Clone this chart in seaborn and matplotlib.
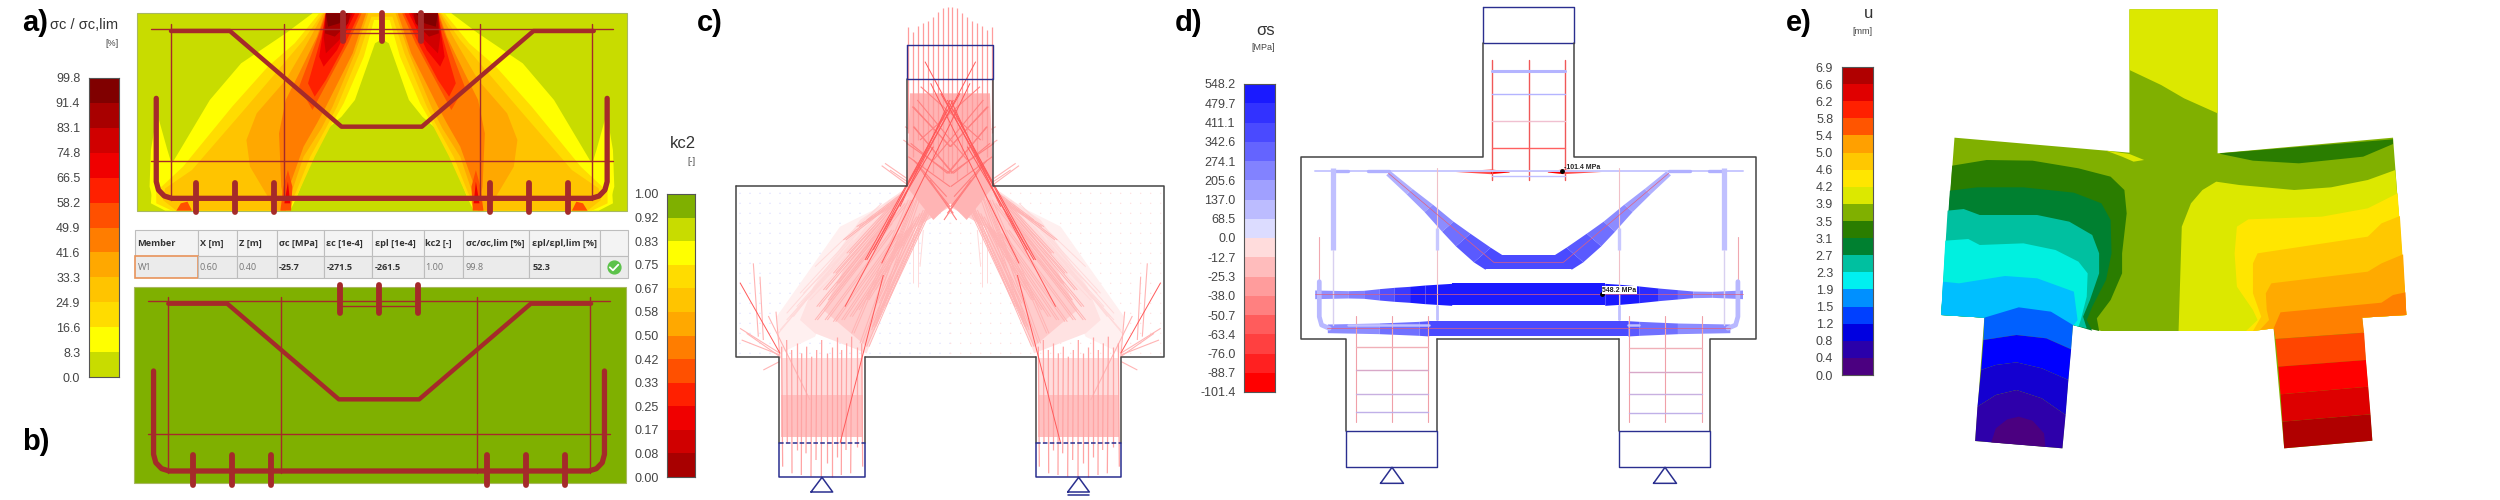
"""
Planches a) à e) : résultats de calcul d'une poutre-voile (champs, bielles, aciers, déplacements)
"""

import numpy as np
import matplotlib
matplotlib.use("Agg")
import matplotlib.pyplot as plt
from matplotlib.colors import ListedColormap
from matplotlib.patches import Polygon, Rectangle
import seaborn as sns

sns.set_theme(style="white")
plt.rcParams["font.family"] = ["Liberation Sans", "DejaVu Sans"]

W, H = 2500, 500

# ─────────────────────────────────────────
# DATA
# ─────────────────────────────────────────

# a) légende
sc_ticks = ["99.8", "91.4", "83.1", "74.8", "66.5", "58.2", "49.9", "41.6", "33.3", "24.9", "16.6", "8.3", "0.0"]
sc_colors = ["#800000", "#a80000", "#d00000", "#f00000", "#ff2000", "#ff5000", "#ff7d00",
             "#ffa800", "#ffc400", "#ffdc00", "#ffff00", "#c8dc00"]

# b) légende
kc_ticks = ["1.00", "0.92", "0.83", "0.75", "0.67", "0.58", "0.50", "0.42", "0.33", "0.25", "0.17", "0.08", "0.00"]
kc_colors = ["#7fb000", "#c8dc00", "#ffff00", "#ffdc00", "#ffc400", "#ffa800", "#ff7d00",
             "#ff5000", "#ff2000", "#f00000", "#d00000", "#a80000"]

# d) légende
ss_ticks = ["548.2", "479.7", "411.1", "342.6", "274.1", "205.6", "137.0", "68.5", "0.0",
            "-12.7", "-25.3", "-38.0", "-50.7", "-63.4", "-76.0", "-88.7", "-101.4"]
ss_colors = ["#1a1aff", "#3232ff", "#4a4aff", "#6464ff", "#8282ff", "#a0a0ff", "#bcbcff", "#dcdcff",
             "#ffdcdc", "#ffbcbc", "#ff9c9c", "#ff8080", "#ff5c5c", "#ff4040", "#ff2020", "#ff0000"]

# e) légende
u_ticks = ["6.9", "6.6", "6.2", "5.8", "5.4", "5.0", "4.6", "4.2", "3.9", "3.5", "3.1", "2.7",
           "2.3", "1.9", "1.5", "1.2", "0.8", "0.4", "0.0"]
u_colors = ["#b00000", "#e00000", "#ff2000", "#ff5500", "#ffa000", "#ffc800", "#ffe600", "#dce800", "#80b000",
            "#2a7d00", "#008030", "#00c0a0", "#00f0f0", "#0090ff", "#0040ff", "#0000e0", "#2a00aa", "#4b0080"]

# tableau
table_head = ["Member", "X [m]", "Z [m]", "σc [MPa]", "εc [1e-4]", "εpl [1e-4]", "kc2 [-]",
              "σc/σc,lim [%]", "εpl/εpl,lim [%]", ""]
table_row = ["W1", "0.60", "0.40", "-25.7", "-271.5", "-261.5", "1.00", "99.8", "52.3", ""]
table_bold = [3, 4, 5, 8]
table_widths = [190, 117, 118, 143, 144, 153, 118, 199, 213, 83]

# a) isovaleurs, demi-poutre gauche (repère du zoom 1)
sc_levels = [
    ("#ffff00", [(700, 40), (640, 100), (540, 190), (470, 300), (390, 480), (340, 570), (338, 610), (370, 632),
                 (650, 632), (665, 590), (700, 470), (735, 385), (765, 350), (795, 300), (840, 130), (855, 118), (855, 40)]),
    ("#ffff00", [(352, 340), (338, 450), (335, 560), (345, 610), (385, 632), (400, 560), (375, 450)]),
    ("#ffdc00", [(715, 40), (660, 130), (600, 200), (520, 320), (410, 500), (350, 575), (350, 610), (385, 632),
                 (645, 632), (668, 580), (705, 470), (740, 380), (770, 310), (815, 170), (838, 60), (855, 60), (855, 40)]),
    ("#ffc400", [(722, 40), (680, 120), (620, 215), (540, 340), (430, 510), (370, 565), (365, 600), (395, 632),
                 (640, 632), (662, 580), (695, 470), (730, 385), (755, 320), (805, 160), (832, 50), (855, 50), (855, 40)]),
    ("#ffa800", [(725, 40), (690, 125), (640, 240), (575, 340), (552, 420), (560, 500), (600, 590), (615, 632),
                 (640, 632), (655, 570), (680, 470), (720, 385), (745, 320), (795, 160), (825, 40)]),
    ("#ff7d00", [(728, 40), (710, 110), (670, 220), (640, 300), (625, 400), (630, 560), (640, 632), (648, 560),
                 (680, 440), (710, 370), (730, 320), (790, 160), (820, 40)]),
    ("#ff5000", [(730, 40), (715, 100), (690, 190), (670, 260), (700, 330), (740, 230), (780, 130), (810, 40)]),
    ("#ff2000", [(730, 40), (720, 110), (705, 180), (690, 250), (705, 290), (730, 240), (770, 140), (805, 40)]),
    ("#f00000", [(730, 40), (722, 110), (715, 170), (725, 200), (755, 150), (795, 40)]),
    ("#d00000", [(730, 40), (725, 110), (730, 160), (760, 120), (790, 40)]),
    ("#a80000", [(730, 40), (728, 100), (750, 110), (780, 70), (785, 40)]),
    ("#800000", [(730, 40), (735, 80), (760, 70), (780, 40)]),
    ("#ff5000", [(395, 632), (405, 610), (420, 605), (430, 632)]),
    ("#ff5000", [(628, 632), (635, 560), (645, 510), (655, 560), (652, 632)]),
    ("#f00000", [(637, 610), (645, 545), (650, 610)]),
]

# a/b) ferraillage (repère du zoom 1)
thin_h_y = [86, 484]
thin_h_x = (338, 1372)
thin_v_x = [383, 636, 1075, 1327]
thin_v_y = (72, 600)
bent_x = [383, 515, 765, 945, 1195, 1330]
bent_y = [93, 93, 380, 380, 93, 93]
u_bar_x = [350, 350, 355, 368, 385, 1325, 1342, 1355, 1360, 1360]
u_bar_y = [295, 545, 570, 588, 595, 595, 588, 570, 545, 295]
stud_low_x = [438, 526, 613, 1097, 1185, 1272]
stud_top_x = [768, 855, 943]

# c) contours (repère du zoom 2)
c_top_x = [625, 640, 655, 670, 685, 700, 715, 730, 745, 757, 770, 785, 800, 815, 830, 845, 860, 877]
c_top_y0 = [80, 95, 78, 70, 62, 50, 35, 25, 22, 22, 25, 38, 50, 62, 70, 78, 90, 80]
c_top_y1 = [400, 470, 420, 500, 450, 520, 470, 540, 500, 500, 540, 470, 520, 450, 500, 420, 470, 400]
c_low_x0 = [245, 260, 275, 290, 305, 320, 335, 350, 365, 380, 395, 410, 425, 440, 455, 470, 485]
c_low_x1 = [248, 262, 276, 290, 304, 318, 333, 348, 364, 380, 395, 410, 424, 438, 452, 470, 488]
c_low_y0 = [1040, 1020, 1050, 1030, 1060, 1040, 1070, 1050, 1020, 1060, 1040, 1010, 1050, 1030, 1010, 1040, 1030]
c_low_y1 = [1400, 1330, 1420, 1350, 1425, 1360, 1430, 1380, 1435, 1390, 1430, 1370, 1425, 1350, 1420, 1340, 1400]

# c) bielles pâles, moitié gauche : x0, y0, x1, y1
pale_x0 = [610, 600, 590, 580, 570, 575, 590, 600, 620, 630, 640, 650, 660, 670, 680, 690, 700, 600, 600, 585, 605, 615, 625, 635, 645, 655]
pale_y0 = [575, 590, 610, 640, 670, 690, 700, 700, 690, 680, 670, 650, 640, 630, 620, 610, 600, 585, 600, 600, 600, 610, 600, 600, 590, 590]
pale_x1 = [440, 400, 370, 350, 345, 375, 400, 425, 450, 470, 500, 520, 530, 510, 500, 520, 550, 500, 470, 430, 410, 385, 455, 480, 540, 515]
pale_y1 = [760, 820, 870, 920, 960, 960, 965, 960, 950, 930, 900, 870, 910, 980, 1040, 980, 920, 660, 680, 720, 850, 900, 1000, 1030, 860, 990]
faint_x0 = [560, 540, 500, 520, 480, 460, 640, 655, 670, 625, 610, 590, 570, 545]
faint_y0 = [640, 650, 680, 640, 690, 720, 680, 680, 690, 590, 580, 590, 600, 610]
faint_x1 = [260, 240, 235, 300, 260, 280, 640, 655, 660, 330, 310, 290, 270, 345]
faint_y1 = [960, 990, 1000, 880, 940, 950, 850, 860, 800, 900, 880, 920, 950, 800]
fan_x0 = [120, 125, 140, 160, 180, 205, 228, 545, 555, 570, 610, 615, 190]
fan_y0 = [985, 1020, 1000, 790, 830, 948, 935, 497, 490, 510, 420, 380, 1110]
fan_x1 = [240, 240, 240, 175, 190, 330, 240, 620, 620, 622, 640, 640, 238]
fan_y1 = [1060, 1065, 1070, 1010, 1020, 1200, 1075, 552, 535, 545, 440, 395, 1085]
# c) bielles marquées
red_x0 = [827, 760, 810, 780, 750, 740, 550, 120, 700]
red_y0 = [185, 300, 250, 280, 300, 330, 825, 848, 440]
red_x1 = [435, 495, 545, 620, 600, 520, 420, 240, 500]
red_y1 = [920, 780, 790, 560, 620, 750, 1330, 1060, 780]
cross_x0 = [640, 640, 620, 625, 640, 655, 670, 690, 865, 860, 850, 840, 870]
cross_y0 = [320, 380, 430, 470, 480, 500, 520, 540, 320, 380, 300, 260, 430]
cross_x1 = [750, 760, 750, 750, 740, 750, 760, 770, 750, 745, 700, 660, 760]
cross_y1 = [440, 520, 520, 560, 590, 620, 640, 660, 440, 520, 480, 420, 520]
dot_x = [120, 150, 180, 210, 240, 270, 300, 330, 360, 390, 420, 450, 480, 510, 540, 570, 600, 630, 660, 690, 720, 750]
dot_y = [580, 610, 640, 670, 700, 730, 760, 790, 820, 850, 880, 910, 940, 970, 1000, 1030, 1060]

# d) bandes d'effort (repère du zoom 3)
tie_x = [352, 440, 480, 520, 560, 600, 640, 710, 1110, 1150, 1200, 1250, 1300, 1340, 1390, 1470]
tie_hw = [13, 11, 12, 17, 21, 24, 28, 33, 33, 30, 25, 19, 14, 10, 9, 13]
tie_c = ["#9090ff", "#8080ff", "#7070ff", "#5050ff", "#3a3aff", "#1a1aff", "#1a1aff", "#1a1aff", "#1a1aff",
         "#1a1aff", "#2a2aff", "#5050ff", "#6a6aff", "#9090ff", "#9090ff"]
low_x = [385, 520, 625, 650, 1170, 1200, 1300, 1437]
low_hw = [13, 16, 21, 23, 23, 21, 16, 13]
low_c = ["#8c8cff", "#7070ff", "#5a5aff", "#4a4aff", "#5a5aff", "#7070ff", "#8c8cff"]
top_x = [720, 810, 860, 960, 1000, 1100]
top_hw = [0.5, 7, 2, 2, 7, 0.5]
top_c = ["#ff5050", "#ff0000", "#ff5050", "#ff0000", "#ff5050"]
diag_x = [545, 600, 650, 700, 740, 790, 820]
diag_y = [520, 575, 625, 680, 720, 765, 787]
diag_hw = [6, 8, 11, 15, 19, 22, 22]
diag_c = ["#b0b0ff", "#a0a0ff", "#8c8cff", "#7070ff", "#5a5aff", "#4a4aff"]
stir_top_x = [815, 911, 1006]
stir_top_h = [212, 281, 364, 445, 527]
stir_top_c = ["#b4b4ff", "#b4b4ff", "#f0c0d0", "#ff6060", "#c0c0ff"]
stir_l_x = [459, 555, 649]
stir_r_x = [1173, 1268, 1363]
stir_l_h = [1042, 1111, 1181, 1235]
stir_r_h = [1045, 1115, 1183, 1238]
red_wire_x = [545, 820, 1002, 1277]
red_wire_y = [520, 787, 787, 520]

# e) isovaleurs (repère du zoom 4)
u_body = [(761, 28), (953, 28), (953, 460), (1335, 413), (1364, 945), (1268, 953), (1290, 1322), (1098, 1345),
          (1075, 985), (1030, 993), (700, 993), (638, 975), (615, 1345), (425, 1323), (445, 953), (351, 945),
          (380, 413), (761, 458)]
u_levels = [
    ("#dce800", [(761, 28), (953, 28), (953, 340), (880, 295), (830, 255), (761, 210)]),
    ("#dce800", [(710, 452), (761, 462), (793, 480), (770, 485), (745, 470)]),
    ("#2a7d00", [(958, 460), (1335, 418), (1335, 432), (1270, 470), (1130, 490), (1030, 482), (960, 462)]),
    ("#dce800", [(1340, 510), (1280, 540), (1200, 562), (1120, 570), (1000, 555), (950, 545), (920, 570), (895, 610),
                 (875, 680), (868, 993), (1030, 993), (1075, 985), (1268, 953), (1364, 945)]),
    ("#ffe600", [(1345, 580), (1280, 625), (1180, 650), (1020, 658), (995, 680), (990, 760), (995, 860), (1030, 930),
                 (1040, 960), (1015, 993), (1030, 993), (1075, 985), (1268, 953), (1364, 945)]),
    ("#ffc800", [(1350, 648), (1310, 670), (1280, 710), (1040, 760), (1030, 790), (1030, 880), (1048, 950), (1030, 993),
                 (1075, 985), (1268, 953), (1364, 945)]),
    ("#ffaa00", [(1357, 763), (1310, 790), (1280, 815), (1070, 850), (1058, 880), (1060, 930), (1065, 960), (1045, 990),
                 (1075, 985), (1268, 953), (1364, 945)]),
    ("#ff8000", [(1362, 877), (1335, 885), (1310, 908), (1090, 937), (1075, 985), (1079, 1017), (1272, 998), (1268, 953), (1364, 945)]),
    ("#ff4500", [(1079, 1017), (1272, 998), (1276, 1080), (1085, 1100)]),
    ("#ff0000", [(1085, 1100), (1276, 1080), (1281, 1160), (1090, 1183)]),
    ("#dd0000", [(1090, 1183), (1281, 1160), (1286, 1243), (1094, 1265)]),
    ("#b00000", [(1094, 1265), (1286, 1243), (1290, 1322), (1098, 1345)]),
    ("#2a7d00", [(375, 497), (450, 480), (550, 482), (650, 505), (720, 530), (750, 570), (755, 640), (745, 760), (745, 820),
                 (720, 900), (690, 955), (695, 993), (638, 975), (445, 953), (351, 945)]),
    ("#008030", [(370, 572), (430, 562), (530, 562), (640, 578), (700, 610), (720, 660), (722, 760), (710, 840), (680, 920),
                 (668, 960), (680, 992), (638, 975), (445, 953), (351, 945)]),
    ("#00c0a0", [(365, 632), (400, 627), (435, 645), (560, 645), (630, 665), (680, 705), (695, 760), (695, 820), (675, 900),
                 (660, 950), (668, 985), (638, 975), (445, 953), (351, 945)]),
    ("#00f0e0", [(360, 722), (410, 717), (435, 735), (530, 730), (600, 750), (650, 785), (670, 820), (668, 890), (655, 960),
                 (650, 980), (638, 975), (445, 953), (351, 945)]),
    ("#00bfff", [(355, 845), (390, 850), (490, 828), (560, 835), (640, 875), (648, 960), (640, 975), (445, 953), (351, 945)]),
    ("#0060ff", [(445, 953), (520, 922), (590, 935), (638, 975), (634, 1048), (580, 1015), (515, 1005), (443, 1020)]),
    ("#0000ff", [(443, 1020), (515, 1005), (580, 1015), (634, 1048), (628, 1140), (570, 1105), (515, 1087), (470, 1095), (438, 1110)]),
    ("#1400d0", [(438, 1110), (470, 1095), (515, 1087), (570, 1105), (628, 1140), (622, 1245), (570, 1195), (515, 1170), (470, 1185), (430, 1220)]),
    ("#2e00aa", [(430, 1220), (470, 1185), (515, 1170), (570, 1195), (622, 1245), (615, 1345), (425, 1323)]),
    ("#4b0080", [(460, 1327), (470, 1285), (495, 1258), (520, 1250), (550, 1262), (575, 1300), (578, 1340)]),
]


# ─────────────────────────────────────────
# HELPERS
# ─────────────────────────────────────────

def px_axes(x0, x1, y0, y1):
    return fig.add_axes([x0 / W, 1 - y1 / H, (x1 - x0) / W, (y1 - y0) / H])


def crop_axes(x0, width):
    # chaque planche garde le repère (x, y) lu sur son zoom : 1568 ou 1500 de large, 1500 de haut
    ax = px_axes(x0, x0 + width, 0, H)
    ax.set_xlim(0, 1500 if width == 500 else 1568)
    ax.set_ylim(1500, 0)
    ax.axis("off")
    ax.patch.set_alpha(0)
    return ax


def scale_bar(box, colors, ticks, size):
    ax = px_axes(*box)
    n = len(colors)
    values = np.arange(n)[::-1].reshape(-1, 1)
    sns.heatmap(values, ax=ax, cmap=ListedColormap(colors[::-1]), cbar=False, vmin=-0.5, vmax=n - 0.5,
                xticklabels=False, yticklabels=False)
    ax.set_yticks(np.arange(n + 1))
    ax.set_yticklabels(ticks, fontsize=size, color="#444444", rotation=0)
    ax.tick_params(axis="y", length=0, pad=6, left=True)
    for s in ax.spines.values():
        s.set_visible(True)
        s.set_color("#555555")
        s.set_linewidth(0.8)
    return ax


def mirror(pts, c):
    return [(2 * c - x, y) for x, y in pts]


def rebar(ax, dx=0, dy=0):
    col = "#a52a2a"
    for y in thin_h_y:
        ax.plot(np.array(thin_h_x) + dx, [y + dy, y + dy], color=col, lw=1.0)
    for x in thin_v_x:
        ax.plot([x + dx, x + dx], np.array(thin_v_y) + dy, color=col, lw=1.0)
    ax.plot(np.array(bent_x) + dx, np.array(bent_y) + dy, color=col, lw=3.2, solid_joinstyle="round")
    ax.plot(np.array(u_bar_x) + dx, np.array(u_bar_y) + dy, color=col, lw=3.8, solid_capstyle="round", solid_joinstyle="round")
    for x in stud_low_x:
        ax.plot([x + dx, x + dx], [548 + dy, 636 + dy], color=col, lw=4.2, solid_capstyle="round")
    for x in stud_top_x:
        ax.plot([x + dx, x + dx], [38 + dy, 122 + dy], color=col, lw=4.2, solid_capstyle="round")
    ax.plot([768 + dx, 943 + dx], [100 + dy, 100 + dy], color=col, lw=1.0)


def lines(ax, x0, y0, x1, y1, color, lw, flip=True):
    for a, b, c, d in zip(x0, y0, x1, y1):
        ax.plot([a, c], [b, d], color=color, lw=lw, solid_capstyle="butt")
        if flip:
            ax.plot([1502 - a, 1502 - c], [b, d], color=color, lw=lw, solid_capstyle="butt")


def band(ax, xs, hw, y, colors):
    for i, col in enumerate(colors):
        ax.fill_between(xs[i:i + 2], [y - hw[i], y - hw[i + 1]], [y + hw[i], y + hw[i + 1]], color=col, lw=0)


def box(ax, x0, y0, x1, y1, color, lw=1.0, ls="-"):
    ax.plot([x0, x1, x1, x0, x0], [y0, y0, y1, y1, y0], color=color, lw=lw, ls=ls)


fig = plt.figure(figsize=(25, 5), dpi=100, facecolor="white")

# ─────────────────────────────────────────
# a) et b)
# ─────────────────────────────────────────

ax1 = crop_axes(0, 700)
ax1.add_patch(Rectangle((306, 40), 1098, 592, fc="#c8dc00", ec="#a8b860", lw=0.8))
for col, pts in sc_levels:
    ax1.add_patch(Polygon(pts, fc=col, ec="none"))
    ax1.add_patch(Polygon(mirror(pts, 855.5), fc=col, ec="none"))
rebar(ax1)

ax1.add_patch(Rectangle((300, 860), 1102, 590, fc="#7fb000", ec="#a8b860", lw=0.8))
rebar(ax1, dx=-6, dy=818)

scale_bar((88.5, 119, 78, 377), sc_colors, sc_ticks, 9)
scale_bar((667, 695, 194, 477), kc_colors, kc_ticks, 9)

ax1.text(265, 75, "σc / σc,lim", fontsize=10.5, color="#333333", ha="right", va="center")
ax1.text(265, 130, "[%]", fontsize=6.5, color="#444444", ha="right", va="center")
ax1.text(1558, 432, "kc2", fontsize=12, color="#333333", ha="right", va="center")
ax1.text(1558, 485, "[-]", fontsize=6.5, color="#444444", ha="right", va="center")
ax1.text(50, 70, "a)", fontsize=21, fontweight="bold", color="black", va="center")
ax1.text(50, 1325, "b)", fontsize=21, fontweight="bold", color="black", va="center")

# tableau
ax_t = px_axes(135, 628, 230, 278)
ax_t.axis("off")
ax_t.set_zorder(-1)
tab = ax_t.table(cellText=[table_head, table_row], colWidths=list(np.array(table_widths) / sum(table_widths)),
                 bbox=[0, 0, 1, 1], cellLoc="left")
tab.auto_set_font_size(False)
for (r, c), cell in tab.get_celld().items():
    cell.set_height(26 if r == 0 else 22)
    cell.set_edgecolor("#bdbdbd")
    cell.set_linewidth(0.8)
    cell.set_facecolor("#f3f3f3" if r == 0 else "#ebebeb")
    cell.PAD = 0.04
    txt = cell.get_text()
    txt.set_family(["Open Sans", "DejaVu Sans"])
    txt.set_fontsize(6.6)
    if r == 0 or c in table_bold:
        txt.set_fontweight("bold")
        txt.set_color("#333333")
    else:
        txt.set_color("#777777")
tab[(1, 0)].set_edgecolor("#e8935a")
tab[(1, 0)].set_linewidth(1.2)
ax1.scatter([1375], [802], s=85, color="#5cc24a", zorder=6)
ax1.plot([1366, 1373, 1385], [802, 811, 794], color="white", lw=1.3, zorder=7)

# ─────────────────────────────────────────
# c) bielles
# ─────────────────────────────────────────

ax2 = crop_axes(700, 500)
sns.scatterplot(x=np.repeat(dot_x, len(dot_y)), y=np.tile(dot_y, len(dot_x)), s=1.0, color="#dcdcff",
                edgecolor="none", ax=ax2, legend=False)
sns.scatterplot(x=1502 - np.repeat(dot_x, len(dot_y)), y=np.tile(dot_y, len(dot_x)), s=1.0, color="#ffe0e0",
                edgecolor="none", ax=ax2, legend=False)

# voiles de fond
haze_col = [(630, 280), (870, 280), (880, 560), (800, 660), (751, 610), (700, 660), (620, 560)]
haze_strut = [(620, 560), (540, 650), (430, 810), (370, 930), (500, 1040), (560, 900), (650, 680), (751, 620)]
haze_mid = [(610, 570), (480, 660), (340, 860), (300, 960), (345, 1000), (500, 1060), (560, 900)]
haze_out = [(600, 590), (420, 680), (230, 950), (240, 1060), (345, 1010), (500, 700)]
for pts, col in [(haze_out, "#fff0f0"), (haze_mid, "#ffe2e2"), (haze_strut, "#ffcccc")]:
    ax2.add_patch(Polygon(pts, fc=col, ec="none"))
    ax2.add_patch(Polygon(mirror(pts, 751), fc=col, ec="none"))
ax2.add_patch(Polygon(haze_col, fc="#ffb4b4", ec="none"))
for off in [0, 770]:
    ax2.add_patch(Rectangle((243 + off, 1075), 245, 110, fc="#ffdcdc", ec="none"))
    ax2.add_patch(Rectangle((243 + off, 1185), 245, 125, fc="#ffc0c0", ec="none"))

lines(ax2, faint_x0, faint_y0, faint_x1, faint_y1, "#ffdada", 0.7)
for dx in (0, 7):
    lines(ax2, np.array(pale_x0) + dx, pale_y0, np.array(pale_x1) + dx, pale_y1, "#ffb4b4", 0.7)
lines(ax2, fan_x0, fan_y0, fan_x1, fan_y1, "#ffb4b4", 0.8)
lines(ax2, c_top_x, c_top_y0, c_top_x, c_top_y1, "#ff9c9c", 0.9, flip=False)
lines(ax2, cross_x0, cross_y0, cross_x1, cross_y1, "#ff8080", 0.8)
for off in [0, 770]:
    lines(ax2, np.array(c_low_x0) + off, c_low_y0, np.array(c_low_x1) + off, c_low_y1, "#ffa4a4", 0.9, flip=False)
lines(ax2, red_x0, red_y0, red_x1, red_y1, "#ff5a5a", 0.7)

# contours
navy = "#2a2f8f"
ax2.plot([108, 622, 622], [558, 558, 238], color="#444444", lw=1.1)
ax2.plot([880, 880, 1393, 1393, 1264, 1264], [238, 558, 558, 1072, 1072, 1328], color="#444444", lw=1.1)
ax2.plot([108, 108, 237, 237], [558, 1072, 1072, 1328], color="#444444", lw=1.1)
ax2.plot([494, 494], [1328, 1072], color="#444444", lw=1.1)
ax2.plot([494, 1007], [1072, 1072], color="#444444", lw=1.1)
ax2.plot([1007, 1007], [1072, 1328], color="#444444", lw=1.1)
box(ax2, 622, 135, 880, 238, navy)
for off in [0, 770]:
    ax2.plot([237 + off, 494 + off], [1328, 1328], color=navy, lw=1.1, ls=(0, (3, 1.5)))
    ax2.plot([237 + off, 237 + off, 494 + off, 494 + off], [1328, 1432, 1432, 1328], color=navy, lw=1.1)
    ax2.plot([333 + off, 366 + off, 398 + off, 333 + off], [1476, 1432, 1476, 1476], color=navy, lw=1.1)
ax2.plot([1103, 1168], [1486, 1486], color=navy, lw=1.1)

# ─────────────────────────────────────────
# d) contraintes dans les aciers
# ─────────────────────────────────────────

ax3 = crop_axes(1180, 600)
scale_bar((1244, 1275, 84, 392), ss_colors, ss_ticks, 9)
ax3.text(248, 92, "σs", fontsize=12, color="#333333", ha="right", va="center")
ax3.text(248, 143, "[MPa]", fontsize=6.5, color="#444444", ha="right", va="center")

box(ax3, 791, 21, 1030, 130, navy)
ax3.plot([791, 791, 316, 316, 435, 435], [130, 472, 472, 1018, 1018, 1292], color="#444444", lw=1.1)
ax3.plot([1030, 1030, 1506, 1506, 1386, 1386], [130, 472, 472, 1018, 1018, 1292], color="#444444", lw=1.1)
ax3.plot([672, 672], [1018, 1292], color="#444444", lw=1.1)
ax3.plot([1148, 1148], [1018, 1292], color="#444444", lw=1.1)
ax3.plot([672, 1148], [1018, 1018], color="#444444", lw=1.1)
for off in [0, 713.5]:
    box(ax3, 435 + off, 1292, 672 + off, 1402, navy)
    ax3.plot([524 + off, 554 + off, 584 + off, 524 + off], [1450, 1402, 1450, 1450], color=navy, lw=1.1)

# étriers de semelle et de poteau
for xs, hs, x0, x1 in [(stir_l_x, stir_l_h, 459, 649), (stir_r_x, stir_r_h, 1173, 1363)]:
    for x in xs:
        ax3.plot([x, x], [948, 1265], color="#f0a0a8", lw=0.8)
    for y, col in zip(hs, ["#f0b0b8", "#d8a8c8", "#c8b0e0", "#c0b0e8"]):
        ax3.plot([x0, x1], [y, y], color=col, lw=1.0)
for x in stir_top_x:
    ax3.plot([x, x], [180, 540], color="#f05858", lw=1.0)
for y, col in zip(stir_top_h, stir_top_c):
    ax3.plot([815, 1006], [y, y], color=col, lw=2.2 if y == 212 else 1.0)

# armatures : fil rouge, puis bandes
ax3.plot([352, 1470], [514, 514], color="#c8c8ff", lw=1.4)
for x0, x1 in [(400, 440), (490, 545), (1278, 1333), (1382, 1422)]:
    ax3.plot([x0, x1], [514, 514], color="#b0b0ff", lw=2.4)
band(ax3, top_x, top_hw, 514, top_c)

for x in [400, 1422]:
    ax3.plot([x, x], [505, 750], color="#c0c0ff", lw=3.8, solid_capstyle="butt")
    ax3.plot([x, x], [750, 975], color="#d8d0f0", lw=1.0)
for x in [672, 1148]:
    ax3.plot([x, x], [505, 960], color="#f0c0c8", lw=0.8)
    ax3.plot([x, x], [685, 750], color="#c8c8ff", lw=2.4, solid_capstyle="butt")
    ax3.plot([x, x], [915, 960], color="#c0c0ff", lw=2.0, solid_capstyle="butt")

for side in [1, -1]:
    for i, col in enumerate(diag_c):
        cx = np.array(diag_x[i:i + 2], dtype=float)
        cy = np.array(diag_y[i:i + 2], dtype=float)
        h0, h1 = diag_hw[i], diag_hw[i + 1]
        pts = [(cx[0] + h0, cy[0] - h0), (cx[1] + h1, cy[1] - h1), (cx[1] - h1, cy[1] + h1), (cx[0] - h0, cy[0] + h0)]
        ax3.add_patch(Polygon(pts if side == 1 else mirror(pts, 911), fc=col, ec="none"))
ax3.add_patch(Rectangle((800, 766), 222, 42, fc="#4a4aff", ec="none"))

for x, sgn in [(364, 1), (1458, -1)]:
    ax3.plot([x, x], [712, 845], color="#f0a8b0", lw=0.8)
    ax3.plot([x, x, x + 6 * sgn, x + 26 * sgn], [845, 950, 975, 985], color="#b8b8ff", lw=3.4, solid_joinstyle="round")

band(ax3, tie_x, tie_hw, 883, tie_c)
band(ax3, low_x, low_hw, 985, low_c)
ax3.plot([440, 650], [975, 975], color="#c0c0ff", lw=1.8)
ax3.plot([1170, 1200], [975, 975], color="#c0c0ff", lw=1.8)

ax3.plot([352, 1470], [883, 883], color="#e06080", lw=0.5)
ax3.plot([385, 1437], [985, 985], color="#e06080", lw=0.5)
ax3.plot(red_wire_x, red_wire_y, color="#e06080", lw=0.5)

ax3.scatter([999, 1102], [513, 883], s=6, color="black", zorder=6)
ax3.text(1004, 503, "-101.4 MPa", fontsize=5, fontweight="bold", va="center", color="#222222")
ax3.text(1104, 870, "548.2 MPa", fontsize=5, fontweight="bold", va="center", color="#222222", zorder=7,
         bbox=dict(fc="white", ec="none", pad=0.5))

# ─────────────────────────────────────────
# e) déplacements
# ─────────────────────────────────────────

ax4 = crop_axes(1780, 720)
ax4.add_patch(Polygon(u_body, fc="#80b000", ec="none"))
for col, pts in u_levels:
    ax4.add_patch(Polygon(pts, fc=col, ec="none"))
scale_bar((1841.5, 1873, 67, 375), u_colors, u_ticks, 9)
ax4.text(202, 42, "u", fontsize=12, color="#333333", ha="right", va="center")
ax4.text(202, 95, "[mm]", fontsize=6.5, color="#444444", ha="right", va="center")
ax4.text(12, 70, "e)", fontsize=21, fontweight="bold", color="black", va="center")
ax2.text(-8, 70, "c)", fontsize=21, fontweight="bold", color="black", va="center", clip_on=False)
ax2.text(1425, 70, "d)", fontsize=21, fontweight="bold", color="black", va="center", clip_on=False)

fig.savefig("out.png", dpi=100)
plt.close(fig)
